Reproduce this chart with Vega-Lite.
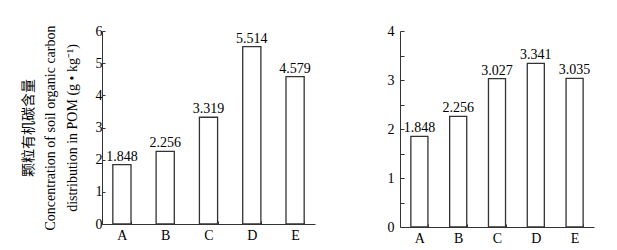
{
  "$schema": "https://vega.github.io/schema/vega-lite/v6.json",
  "padding": {"left": 21, "top": 24, "right": 5, "bottom": 5},
  "background": "white",
  "config": {
    "view": {"stroke": null},
    "font": "Liberation Serif, Noto Sans CJK SC",
    "axis": {
      "grid": false,
      "domainColor": "#333",
      "tickColor": "#333",
      "labelColor": "#000",
      "titleColor": "#000",
      "labelFont": "Liberation Serif",
      "labelFontSize": 14,
      "titleFont": "Liberation Serif, Noto Sans CJK SC",
      "titleFontSize": 14,
      "titleFontWeight": "normal"
    }
  },
  "spacing": 72,
  "hconcat": [
    {
      "width": 213,
      "height": 193,
      "data": {"values": [
        {"treatment": "A", "value": 1.848},
        {"treatment": "B", "value": 2.256},
        {"treatment": "C", "value": 3.319},
        {"treatment": "D", "value": 5.514},
        {"treatment": "E", "value": 4.579}
      ]},
      "encoding": {
        "x": {"field": "treatment", "type": "nominal",
              "scale": {"paddingInner": 0.58, "paddingOuter": 0.25},
              "axis": {"title": null, "labelAngle": 0, "tickBand": "extent", "tickSize": -3, "labelPadding": 7}},
        "y": {"field": "value", "type": "quantitative",
              "scale": {"domain": [0, 6], "nice": false},
              "axis": {"values": [0,1,2,3,4,5,6], "tickSize": -3, "labelPadding": 3,
                       "title": ["颗粒有机碳含量", "Concentration of soil organic carbon", "distribution in POM (g • kg⁻¹)"],
                       "titleLineHeight": 22, "titlePadding": 16}}
      },
      "layer": [
        {"mark": {"type": "bar", "fill": "white", "stroke": "#333", "strokeWidth": 1.3}},
        {"mark": {"type": "text", "baseline": "bottom", "dy": -1, "fontSize": 14, "font": "Liberation Serif", "color": "#000"},
         "encoding": {"text": {"field": "value", "type": "quantitative", "format": ".3f"}}}
      ]
    },
    {
      "width": 194,
      "height": 196,
      "data": {"values": [
        {"treatment": "A", "value": 1.848},
        {"treatment": "B", "value": 2.256},
        {"treatment": "C", "value": 3.027},
        {"treatment": "D", "value": 3.341},
        {"treatment": "E", "value": 3.035}
      ]},
      "encoding": {
        "x": {"field": "treatment", "type": "nominal",
              "scale": {"paddingInner": 0.56, "paddingOuter": 0.28},
              "axis": {"title": null, "labelAngle": 0, "tickBand": "extent", "tickSize": -3, "labelPadding": 7}},
        "y": {"field": "value", "type": "quantitative",
              "scale": {"domain": [0, 4], "nice": false},
              "axis": {"values": [0,0.5,1,1.5,2,2.5,3,3.5,4], "tickSize": -4, "labelPadding": 10,
                       "labelExpr": "datum.value % 1 === 0 ? format(datum.value, 'd') : ''",
                       "title": null}}
      },
      "layer": [
        {"mark": {"type": "bar", "fill": "white", "stroke": "#333", "strokeWidth": 1.3}},
        {"mark": {"type": "text", "baseline": "bottom", "dy": -1, "fontSize": 14, "font": "Liberation Serif", "color": "#000"},
         "encoding": {"text": {"field": "value", "type": "quantitative", "format": ".3f"}}}
      ]
    }
  ]
}
